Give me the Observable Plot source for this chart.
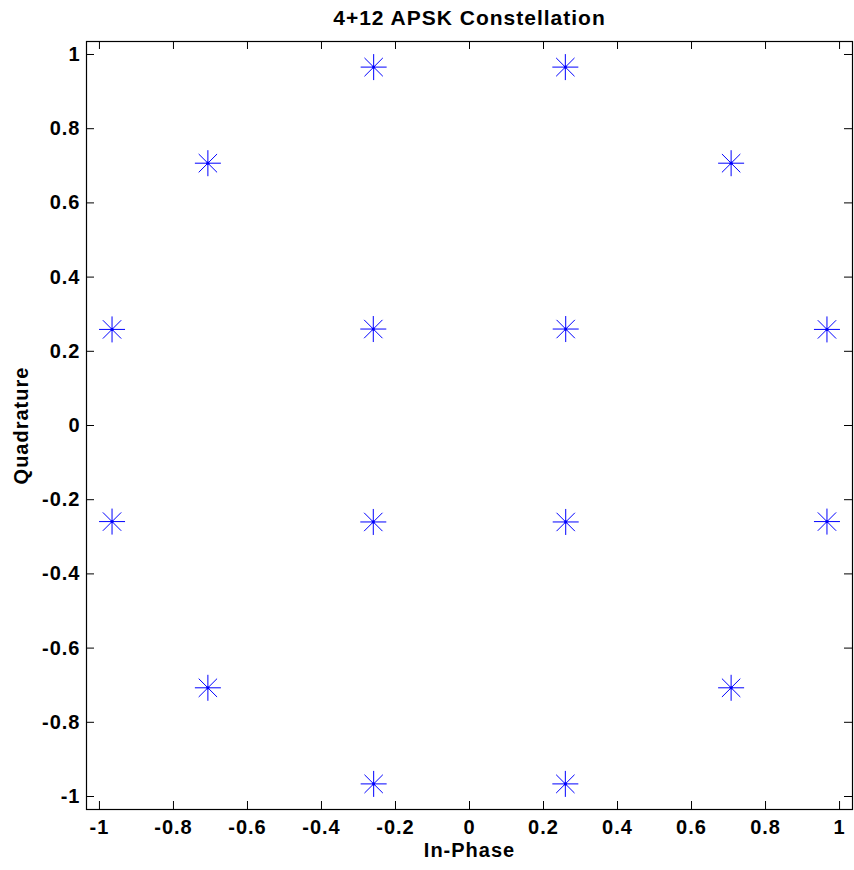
<!DOCTYPE html>
<html>
<head>
<meta charset="utf-8">
<script src="https://cdn.jsdelivr.net/npm/d3@7"></script>
<script src="https://cdn.jsdelivr.net/npm/@observablehq/plot@0.6"></script>
<style>
  html, body { margin: 0; padding: 0; background: #fff; }
</style>
</head>
<body>
<div id="chart"></div>
<script>
// ---- data ----
const titleText = "4+12 APSK Constellation";
const xLabel = "In-Phase";
const yLabel = "Quadrature";
const inPhase    = [0.966, 0.707, 0.259, -0.259, -0.707, -0.966, -0.966, -0.707, -0.259, 0.259, 0.707, 0.966, 0.26, -0.26, -0.26, 0.26];
const quadrature = [0.259, 0.707, 0.966, 0.966, 0.707, 0.259, -0.259, -0.707, -0.966, -0.966, -0.707, -0.259, 0.26, 0.26, -0.26, -0.26];
const xTicks = [-1, -0.8, -0.6, -0.4, -0.2, 0, 0.2, 0.4, 0.6, 0.8, 1];
const xTickLabels = ["-1", "-0.8", "-0.6", "-0.4", "-0.2", "0", "0.2", "0.4", "0.6", "0.8", "1"];
const yTicks = [-1, -0.8, -0.6, -0.4, -0.2, 0, 0.2, 0.4, 0.6, 0.8, 1];
const yTickLabels = ["-1", "-0.8", "-0.6", "-0.4", "-0.2", "0", "0.2", "0.4", "0.6", "0.8", "1"];

const points = inPhase.map((x, i) => ({x, y: quadrature[i]}));

// 8-armed asterisk like MATLAB's '*' marker
const asterisk8 = {
  draw(ctx, size) {
    const r = Math.sqrt(size / Math.PI);
    const d = r / Math.SQRT2;
    ctx.moveTo(0, -r); ctx.lineTo(0, r);
    ctx.moveTo(-r, 0); ctx.lineTo(r, 0);
    ctx.moveTo(-d, -d); ctx.lineTo(d, d);
    ctx.moveTo(-d, d); ctx.lineTo(d, -d);
  }
};

const W = 854, H = 870;
const mL = 86, mR = 2, mT = 41, mB = 61;
const innerW = W - mL - mR, innerH = H - mT - mB;
const tickLen = 8;

const chart = Plot.plot({
  width: W,
  height: H,
  marginLeft: mL,
  marginRight: mR,
  marginTop: mT,
  marginBottom: mB,
  style: {
    fontFamily: "'Liberation Sans', Arial, sans-serif",
    fontWeight: "bold",
    fontSize: "20px",
    letterSpacing: "1px",
    background: "#fff",
    color: "#000"
  },
  x: {domain: [-1.035, 1.035]},
  y: {domain: [-1.035, 1.035]},
  marks: [
    Plot.frame({stroke: "#000", strokeWidth: 1.2}),
    // inward ticks on all four sides
    Plot.tickX(xTicks, {x: d => d, insetTop: innerH - tickLen, stroke: "#000", strokeWidth: 1}),
    Plot.tickX(xTicks, {x: d => d, insetBottom: innerH - tickLen, stroke: "#000", strokeWidth: 1}),
    Plot.tickY(yTicks, {y: d => d, insetRight: innerW - tickLen, stroke: "#000", strokeWidth: 1}),
    Plot.tickY(yTicks, {y: d => d, insetLeft: innerW - tickLen, stroke: "#000", strokeWidth: 1}),
    // tick labels
    Plot.axisX(xTicks, {anchor: "bottom", tickSize: 0, tickPadding: 10, label: null,
      tickFormat: d => xTickLabels[xTicks.indexOf(d)], fontSize: 20, fill: "#000"}),
    Plot.axisY(yTicks, {anchor: "left", tickSize: 0, tickPadding: 6, label: null,
      tickFormat: d => yTickLabels[yTicks.indexOf(d)], fontSize: 20, fill: "#000"}),
    // axis labels and title
    Plot.text([xLabel], {text: d => d, frameAnchor: "bottom", lineAnchor: "middle", textAnchor: "middle",
      dy: 41, fontSize: 20, fill: "#000"}),
    Plot.text([yLabel], {text: d => d, frameAnchor: "left", lineAnchor: "middle", textAnchor: "middle",
      dx: -65, rotate: -90, fontSize: 20, fill: "#000"}),
    Plot.text([titleText], {text: d => d, frameAnchor: "top", lineAnchor: "middle", textAnchor: "middle",
      dy: -23, fontSize: 21, fill: "#000"}),
    // constellation points
    Plot.dot(points, {x: "x", y: "y", r: 13, symbol: asterisk8, stroke: "#0000ff", strokeWidth: 1, fill: "none"}),
    Plot.dot(points, {x: "x", y: "y", r: 1.6, fill: "#0000ff", stroke: "none"})
  ]
});

document.getElementById("chart").appendChild(chart);
</script>
</body>
</html>
